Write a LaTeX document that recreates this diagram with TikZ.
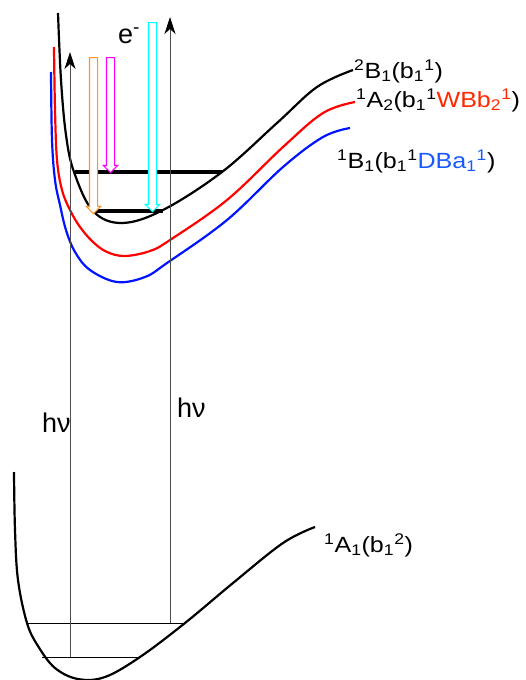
\documentclass[tikz,border=0pt]{standalone}
\usepackage{fontspec}
\setmainfont{Liberation Sans}
\usepackage{tikz}
\usetikzlibrary{arrows.meta,shapes.arrows}
\definecolor{statered}{RGB}{255,0,0}
\definecolor{stateblue}{RGB}{0,20,255}
\definecolor{labred}{RGB}{255,40,0}
\definecolor{labblue}{RGB}{25,90,255}
\definecolor{eorange}{RGB}{255,150,40}
\definecolor{emagenta}{RGB}{255,0,255}
\definecolor{ecyan}{RGB}{0,255,255}
\newcommand{\up}[1]{\textsuperscript{#1}}
\newcommand{\dn}[1]{\textsubscript{#1}}
\tikzset{
  pes/.style={line width=2.2pt,smooth,tension=0.6},
  vlevel/.style={line width=3.6pt},
  glevel/.style={line width=0.9pt},
  excite/.style={-{Stealth[length=17pt,width=11pt,inset=5pt,black]},line width=0.8pt,gray!60!black},
  hollow/.style={single arrow,draw,fill=white,line width=1.1pt,inner sep=3.5pt,
    single arrow head extend=3pt,single arrow head indent=0pt,
    shape border rotate=270,anchor=tail},
  statelabel/.style={font=\fontsize{22}{26}\selectfont,inner sep=0pt,anchor=base west,xscale=1.14},
  biglabel/.style={font=\fontsize{27}{30}\selectfont,inner sep=0pt,anchor=base west}
}
\begin{document}
\begin{tikzpicture}[x=1pt,y=-1pt]
  \useasboundingbox (0,0) rectangle (525,680);
  % ground state
  \draw[pes] plot coordinates {(14,472) (15,530) (18,580) (27,623) (38,646) (55,668)
    (78,679) (105,677) (140,657) (185,623) (233,583) (283,543) (315,527)};
  % excited states
  \draw[pes,stateblue] plot coordinates {(51,72) (52,140) (55,180) (60,205) (66,230)
    (75,252) (90,270) (117,282) (145,277) (167,263) (227,220) (283,167) (323,137) (350,128)};
  \draw[pes,statered] plot coordinates {(54,47) (55,110) (57,160) (62,190) (70,210)
    (80,227) (93,242) (107,252) (125,256) (150,251) (170,240) (227,200) (283,147)
    (323,113) (355,102)};
  \draw[pes] plot coordinates {(58,13) (61,80) (66,135) (74,172) (93,211) (122,223)
    (163,210) (222,172) (277,123) (317,87) (353,70)};

  % vibrational levels
  \coordinate (g0l) at (42,657);  \coordinate (g0r) at (140,657);
  \coordinate (g1l) at (26,623);  \coordinate (g1r) at (185,623);
  \coordinate (x0l) at (93,211);  \coordinate (x0r) at (163,211);
  \coordinate (x1l) at (75,172);  \coordinate (x1r) at (222,172);
  \draw[glevel] (g0l) -- (g0r);
  \draw[glevel] (g1l) -- (g1r);
  \draw[vlevel] (x0l) -- (x0r);
  \draw[vlevel] (x1l) -- (x1r);

  % excitations
  \coordinate (hvla) at (70,657);  \coordinate (hvlb) at (70,52);
  \coordinate (hvra) at (170,623); \coordinate (hvrb) at (170,17);
  \draw[excite] (hvla) -- (hvlb);
  \draw[excite] (hvra) -- (hvrb);
  \node[biglabel] (hvl) at (42,432) {hν};
  \node[biglabel] (hvr) at (177,417) {hν};

  % electron injection
  \node[hollow,draw=eorange,minimum height=156pt] (eor) at (93.5,57) {};
  \node[hollow,draw=emagenta,minimum height=115pt] (emg) at (110.5,57) {};
  \node[hollow,draw=ecyan,minimum height=189pt] (ecy) at (152.5,22) {};
  \node[biglabel] (elec) at (118,43) {e\up{-}};

  % state labels
  \node[statelabel] (sB2) at (354,78) {\up{2}B\dn{1}(b\dn{1}\up{1})};
  \node[statelabel] (sA2) at (356,107) {\up{1}A\dn{2}(b\dn{1}\up{1}\textcolor{labred}{WBb\dn{2}\up{1}})};
  \node[statelabel] (sB1) at (337,168) {\up{1}B\dn{1}(b\dn{1}\up{1}\textcolor{labblue}{DBa\dn{1}\up{1}})};
  \node[statelabel] (sA1) at (324,552) {\up{1}A\dn{1}(b\dn{1}\up{2})};
\end{tikzpicture}
\end{document}
